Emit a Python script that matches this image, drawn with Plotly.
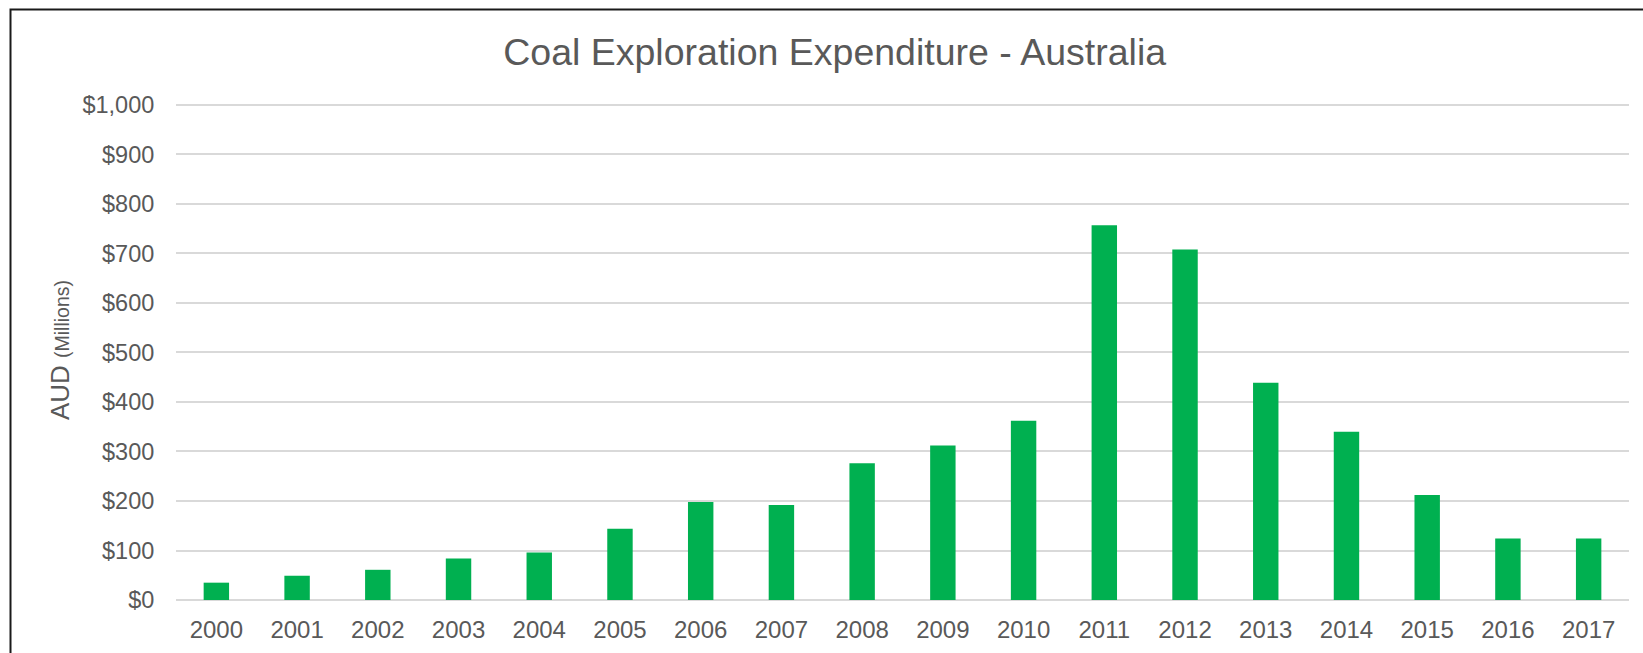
import plotly.graph_objects as go

years = [str(y) for y in range(2000, 2018)]
expenditure = [35, 49, 61, 84, 96, 144, 198, 192, 276, 312, 362, 757, 708, 439, 340, 212, 124, 124]
y_ticks = list(range(0, 1001, 100))
y_tick_text = ["$" + format(v, ",") for v in y_ticks]

FONT = "Liberation Sans, Arial, sans-serif"
GRAY = "#595959"

Y_MAX = 1010
PX_PER_UNIT = 495.5 / 1000
plot_h = Y_MAX * PX_PER_UNIT
bottom_px = 600.5
top_margin = bottom_px - plot_h

fig = go.Figure(go.Bar(x=years, y=expenditure, marker=dict(color="#00B050", line=dict(width=0))))

fig.update_layout(
    width=1643, height=653,
    paper_bgcolor="white", plot_bgcolor="white",
    margin=dict(l=176, r=14, t=top_margin, b=653 - bottom_px, autoexpand=False),
    bargap=0.685,
    showlegend=False,
    font=dict(family=FONT, color=GRAY, size=24),
    title=dict(text="Coal Exploration Expenditure - Australia", x=0.508, xanchor="center",
               y=1 - 52 / 653, yanchor="middle", font=dict(size=37.5, color=GRAY, family=FONT)),
)
fig.update_yaxes(
    automargin=False,
    range=[0, Y_MAX], tickvals=y_ticks, ticktext=y_tick_text,
    showgrid=True, gridcolor="#D9D9D9", gridwidth=1.5,
    zeroline=True, zerolinecolor="#D9D9D9", zerolinewidth=1.5,
    ticks="outside", ticklen=16, tickcolor="rgba(0,0,0,0)",
    tickfont=dict(size=23.5, color=GRAY),
    title=dict(text="AUD <span style='font-size:19.5px'>(Millions)</span>", font=dict(size=26, color=GRAY), standoff=5),
)
fig.update_xaxes(
    automargin=False,
    showgrid=False, showline=False,
    ticks="outside", ticklen=8, tickcolor="rgba(0,0,0,0)",
    tickfont=dict(size=24, color=GRAY),
)

# chart-area frame (left and top edges visible)
fig.add_shape(type="rect", xref="paper", yref="paper",
              x0=(10.5 - 176) / 1453, x1=1.05, y0=-0.2, y1=(bottom_px - 9.5) / plot_h,
              line=dict(color="#1a1a1a", width=2), fillcolor="rgba(0,0,0,0)", layer="above")

fig.write_html("out.html", config={"displayModeBar": False},
               post_script="document.body.style.margin='0';")
